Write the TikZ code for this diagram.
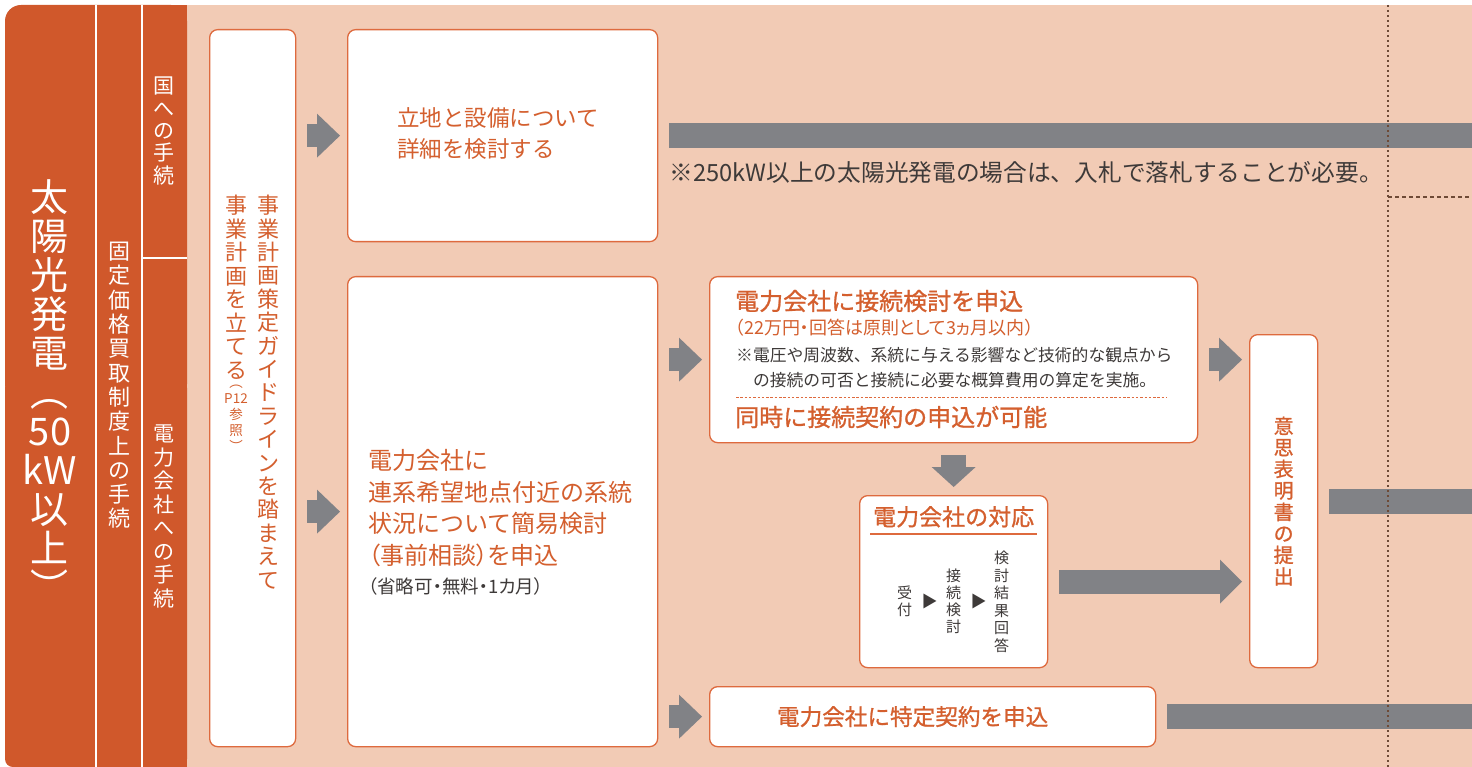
\documentclass[tikz,border=0pt]{standalone}
\usepackage{fontspec}
\setmainfont{Noto Sans CJK JP}
\newfontfamily\headfont[FakeBold=1]{Noto Sans CJK JP}
\newfontfamily\propfont[RawFeature=+palt]{Noto Sans CJK JP}
\usetikzlibrary{positioning,arrows.meta}

\definecolor{panelc}{HTML}{D0582B}
\definecolor{peachc}{HTML}{F2CBB5}
\definecolor{linec}{HTML}{DE6A3E}
\definecolor{textc}{HTML}{D45F2E}
\definecolor{grayc}{HTML}{818286}
\definecolor{darkc}{HTML}{3E3A39}
\definecolor{dotc}{HTML}{6E4A36}

\tikzset{
  stepbox/.style={draw=linec,line width=1.3pt,fill=white,rounded corners=8pt,inner sep=0pt,anchor=north west},
  vtext/.style={align=center,inner sep=0pt},
  blockarrow/.style={draw=grayc,line width=23pt,-{Triangle[length=23pt,width=44pt,line width=0pt]},shorten <=11pt,shorten >=7pt},
  downarrow/.style={draw=grayc,line width=25pt,-{Triangle[length=20pt,width=44pt,line width=0pt]},shorten <=12pt,shorten >=8pt},
  bigarrow/.style={draw=grayc,line width=24pt,-{Triangle[length=22pt,width=44pt,line width=0pt]},shorten <=11pt,shorten >=7pt},
  bar/.style={draw=grayc,line width=25pt},
}

\begin{document}
\begin{tikzpicture}[x=1pt,y=-1pt]
\useasboundingbox (0,0) rectangle (1472,767);

% background and left panel
\fill[peachc] (187,5) rectangle (1472,767);
\fill[panelc,rounded corners=16pt] (5,5) rectangle (187,400);
\fill[panelc,rounded corners=8pt] (5,380) rectangle (187,767);
\fill[panelc] (100,5) rectangle (187,767);
\draw[white,line width=1.5pt] (96,5) -- (96,767);
\draw[white,line width=1.5pt] (142,5) -- (142,767);
\draw[white,line width=1.5pt] (142,258) -- (187,258);

\node[vtext,white,font=\fontsize{38}{39}\selectfont,anchor=north] (title) at (50,179) {太\\陽\\光\\発\\電\\︵\\50\\kW\\以\\上\\︶};
\node[vtext,white,font=\fontsize{22}{24.3}\selectfont,anchor=north] (fit) at (119,242) {固\\定\\価\\格\\買\\取\\制\\度\\上\\の\\手\\続};
\node[vtext,white,font=\fontsize{21}{22.3}\selectfont,anchor=north] (kuni) at (164,77) {国\\へ\\の\\手\\続};
\node[vtext,white,font=\fontsize{21}{23.5}\selectfont,anchor=north] (denryoku) at (164,425) {電\\力\\会\\社\\へ\\の\\手\\続};

% boxes
\node[stepbox,minimum width=86pt,minimum height=717pt] (plan) at (209,29) {};
\node[stepbox,minimum width=310pt,minimum height=212pt] (detail) at (347,29) {};
\node[stepbox,minimum width=310pt,minimum height=470pt] (precheck) at (347,276) {};
\node[stepbox,minimum width=488pt,minimum height=166pt] (connect) at (709,276) {};
\node[stepbox,minimum width=188pt,minimum height=172pt] (response) at (859,495) {};
\node[stepbox,minimum width=68pt,minimum height=333pt] (intent) at (1249,334) {};
\node[stepbox,minimum width=446pt,minimum height=60pt] (contract) at (709,686) {};

% plan
\node[vtext,text=textc,font=\fontsize{22}{23.4}\selectfont,anchor=north] (planGuide) at (268,195) {事\\業\\計\\画\\策\\定\\ガ\\イ\\ド\\ラ\\イ\\ン\\を\\踏\\ま\\え\\て};
\node[vtext,text=textc,font=\fontsize{22}{23.5}\selectfont,anchor=north] (planMain) at (236,195) {事\\業\\計\\画\\を\\立\\て\\る};
\node[vtext,text=textc,font=\fontsize{13.5}{16}\selectfont,anchor=north] (planRef) at ([yshift=-5pt]planMain.south) {︵\\P12\\参\\照\\︶};

% detail
\node[align=left,text=textc,font=\fontsize{22.5}{31}\selectfont,inner sep=0pt,anchor=west] (detailText) at ([xshift=50pt,yshift=2pt]detail.west) {立地と設備について\\詳細を検討する};

% precheck
\node[align=left,text=textc,font=\fontsize{24}{31.7}\selectfont,inner sep=0pt,anchor=north west] (precheckText) at ([xshift=21pt,yshift=-173pt]precheck.north west) {電力会社に\\連系希望地点付近の系統\\状況について簡易検討\\{\propfont （事前相談）を申込}};
\node[text=darkc,font=\propfont\fontsize{18.5}{18.5}\selectfont,inner sep=0pt,anchor=north west] (precheckNote) at ([yshift=-10pt]precheckText.south west) {（省略可・無料・1カ月）};

% connect
\node[text=textc,font=\headfont\fontsize{24}{24}\selectfont,inner sep=0pt,anchor=west] (connectTitle) at ([xshift=26pt,yshift=-25pt]connect.north west) {電力会社に接続検討を申込};
\node[text=textc,font=\propfont\fontsize{18}{18}\selectfont,inner sep=0pt,anchor=west] (connectFee) at ([xshift=26pt,yshift=-52pt]connect.north west) {（22万円・回答は原則として3ヵ月以内）};
\node[align=left,text=darkc,font=\fontsize{16.8}{25}\selectfont,inner sep=0pt,anchor=north west] (connectNote) at ([xshift=27pt,yshift=-71pt]connect.north west) {※電圧や周波数、系統に与える影響など技術的な観点から\\\hspace{1em}の接続の可否と接続に必要な概算費用の算定を実施。};
\draw[linec,line width=0.9pt,dash pattern=on 2.5pt off 1.8pt] ([xshift=27pt,yshift=-121pt]connect.north west) -- ([xshift=-31pt,yshift=-121pt]connect.north east);
\node[text=textc,font=\headfont\fontsize{24}{24}\selectfont,inner sep=0pt,anchor=west] (connectSame) at ([xshift=26pt,yshift=-141pt]connect.north west) {同時に接続契約の申込が可能};

% response
\node[text=textc,font=\headfont\fontsize{23}{23}\selectfont,inner sep=0pt,anchor=north] (responseTitle) at ([yshift=-11pt]response.north) {電力会社の対応};
\draw[linec,line width=1.3pt] ([xshift=11pt,yshift=-39pt]response.north west) -- ([xshift=-11pt,yshift=-39pt]response.north east);
\node[vtext,text=darkc,font=\fontsize{15}{17}\selectfont] (accept) at ([xshift=-49pt,yshift=-20pt]response.center) {受\\付};
\node[vtext,text=darkc,font=\fontsize{15}{17}\selectfont] (review) at ([yshift=-20pt]response.center) {接\\続\\検\\討};
\node[vtext,text=darkc,font=\fontsize{15}{17.5}\selectfont] (answer) at ([xshift=48pt,yshift=-20pt]response.center) {検\\討\\結\\果\\回\\答};
\node[text=darkc,font=\fontsize{16}{16}\selectfont,inner sep=0pt] (tri1) at ([xshift=-24pt,yshift=-20pt]response.center) {▶};
\node[text=darkc,font=\fontsize{16}{16}\selectfont,inner sep=0pt] (tri2) at ([xshift=25pt,yshift=-20pt]response.center) {▶};

% intent
\node[vtext,text=textc,font=\headfont\fontsize{20}{21.5}\selectfont] (intentText) at (intent.center) {意\\思\\表\\明\\書\\の\\提\\出};

% contract
\node[text=textc,font=\headfont\fontsize{22.6}{22.6}\selectfont,inner sep=0pt] (contractText) at ([xshift=-20pt]contract.center) {電力会社に特定契約を申込};

% arrows
\draw[blockarrow] (plan.east |- detail.west) -- (detail.west);
\draw[blockarrow] (plan.east |- precheck.west) -- (precheck.west);
\draw[blockarrow] (precheck.east |- connect.west) -- (connect.west);
\draw[blockarrow] (precheck.east |- contract.west) -- (contract.west);
\draw[blockarrow] (connect.east) -- (connect.east -| intent.west);
\draw[downarrow] (response.north |- connect.south) -- (response.north);
\draw[bigarrow] (response.east) -- (response.east -| intent.west);

% bars to the next stage
\coordinate (redge) at (1472,0);
\draw[bar] ([xshift=11pt]detail.east) -- (detail.east -| redge);
\draw[bar] ([xshift=11pt]intent.east) -- (intent.east -| redge);
\draw[bar] ([xshift=11pt]contract.east) -- (contract.east -| redge);
\node[text=darkc,font=\fontsize{23.7}{23.7}\selectfont,inner sep=0pt,anchor=west] (bidNote) at ([xshift=11pt,yshift=-37pt]detail.east) {※250kW以上の太陽光発電の場合は、入札で落札することが必要。};

% stage border
\draw[dotc,line width=2pt,dash pattern=on 2pt off 3pt] (1388,5) -- (1388,767);
\draw[dotc,line width=1.5pt,dash pattern=on 4pt off 3pt] (1388,197) -- (1472,197);

\end{tikzpicture}
\end{document}
